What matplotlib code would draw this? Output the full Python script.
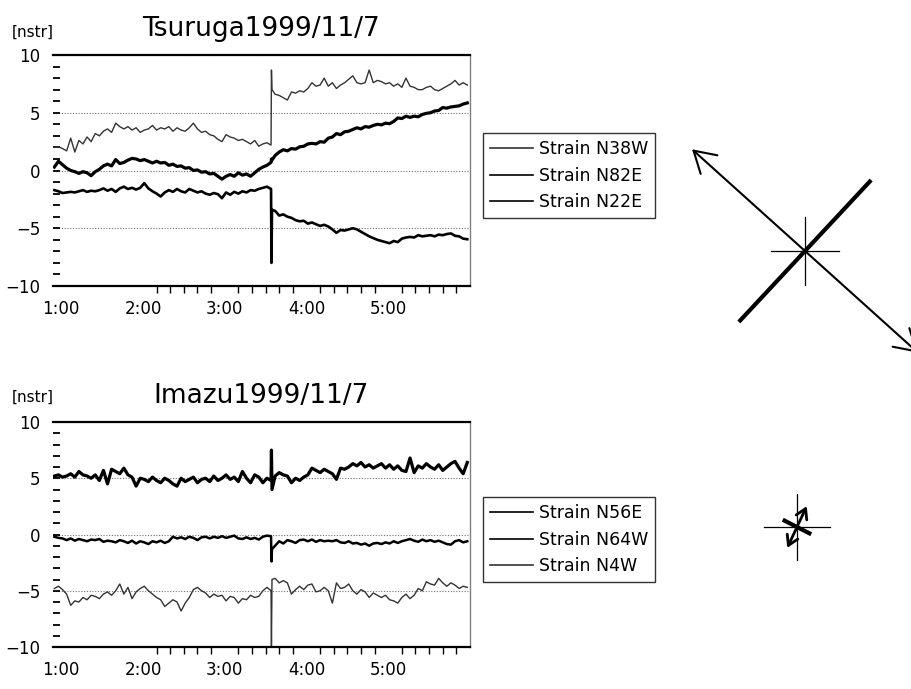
import numpy as np
import matplotlib.pyplot as plt
from matplotlib.patches import FancyArrowPatch

# time axis in minutes after midnight, one sample every 3 minutes
t_grid = np.arange(55, 361, 3)
spike_t = [214.3, 214.7]   # the 3:34 event

# ---- Tsuruga 1999/11/7 ----
tsu_n38w_pre = [2.0, 2.05, 1.9, 1.7, 2.8, 1.6, 2.6, 2.3, 2.9, 2.5,
                3.2, 3.0, 3.4, 3.6, 3.3, 4.1, 3.8, 3.6, 3.8, 3.5,
                3.7, 3.3, 3.5, 3.6, 3.9, 3.5, 3.7, 3.6, 3.8, 3.4,
                3.7, 3.5, 3.4, 3.7, 4.1, 3.6, 3.3, 3.4, 3.1, 3.0,
                2.7, 2.5, 3.1, 2.9, 2.8, 2.6, 2.7, 2.5, 2.3, 2.6,
                2.1, 2.3, 2.4, 2.2]
tsu_n38w_spike = [8.7, 7.0]
tsu_n38w_post = [6.6, 6.5, 6.3, 6.1, 6.8, 6.7, 6.9, 6.8, 7.1, 7.6,
                 7.3, 7.4, 8.0, 7.3, 7.6, 7.1, 7.4, 7.6, 7.9, 8.2,
                 7.6, 7.5, 7.6, 8.7, 7.6, 7.8, 7.7, 7.5, 7.6, 7.3,
                 7.5, 7.2, 8.0, 7.3, 7.2, 7.0, 7.0, 7.2, 7.3, 7.0,
                 6.9, 7.1, 7.3, 7.5, 7.8, 7.4, 7.6, 7.4]

tsu_n82e_pre = [0.3, 0.8, 0.5, 0.2, 0.0, -0.1, -0.25, -0.1, -0.2, -0.45,
                -0.1, 0.1, 0.4, 0.55, 0.4, 0.95, 0.6, 0.7, 0.9, 1.05,
                1.0, 0.85, 0.95, 0.8, 0.65, 0.8, 0.65, 0.7, 0.45, 0.55,
                0.35, 0.4, 0.2, 0.25, 0.0, 0.05, -0.15, -0.1, -0.3, -0.25,
                -0.5, -0.75, -0.5, -0.35, -0.5, -0.2, -0.4, -0.3, -0.5, -0.2,
                0.1, 0.3, 0.45, 0.7]
tsu_n82e_spike = [1.0, 0.9]
tsu_n82e_post = [1.3, 1.6, 1.8, 1.7, 1.9, 1.85, 2.05, 2.1, 2.3, 2.35,
                 2.3, 2.5, 2.45, 2.8, 2.9, 3.2, 3.1, 3.35, 3.4, 3.55,
                 3.7, 3.6, 3.8, 3.75, 3.9, 4.0, 3.95, 4.1, 4.05, 4.25,
                 4.55, 4.5, 4.7, 4.6, 4.7, 4.65, 4.85, 4.95, 5.0, 5.15,
                 5.2, 5.45, 5.4, 5.5, 5.55, 5.6, 5.75, 5.85]

tsu_n22e_pre = [-1.7, -1.8, -1.95, -1.9, -1.85, -1.9, -1.8, -1.7, -1.85, -1.75,
                -1.8, -1.7, -1.55, -1.75, -1.6, -1.85, -1.55, -1.4, -1.6, -1.5,
                -1.65, -1.5, -1.1, -1.55, -1.8, -2.0, -2.25, -1.9, -1.7, -1.85,
                -1.6, -1.8, -1.9, -1.6, -1.75, -1.9, -1.8, -2.0, -2.1, -1.95,
                -2.05, -2.4, -1.9, -2.1, -1.85, -2.0, -1.8, -1.9, -1.7, -1.75,
                -1.6, -1.5, -1.4, -1.6]
tsu_n22e_spike = [-8.0, -3.4]
tsu_n22e_post = [-3.5, -3.9, -3.8, -4.0, -4.1, -4.3, -4.4, -4.35, -4.6, -4.5,
                 -4.65, -4.8, -4.7, -4.85, -5.1, -5.4, -5.15, -5.2, -5.1, -5.0,
                 -5.1, -5.3, -5.5, -5.7, -5.85, -6.0, -6.1, -6.2, -6.3, -6.1,
                 -6.2, -5.9, -5.8, -5.75, -5.8, -5.6, -5.7, -5.65, -5.6, -5.7,
                 -5.55, -5.6, -5.5, -5.45, -5.65, -5.7, -5.9, -5.95]

# ---- Imazu 1999/11/7 ----
imz_n56e_pre = [5.2, 5.3, 5.1, 5.2, 5.4, 5.1, 5.6, 5.3, 5.2, 5.0,
                5.3, 4.8, 5.7, 4.5, 5.8, 5.6, 5.4, 5.9, 5.3, 5.1,
                4.3, 5.0, 4.9, 4.7, 5.1, 4.8, 4.6, 5.0, 4.8, 4.5,
                4.3, 5.0, 4.7, 4.9, 5.1, 4.6, 4.9, 5.0, 4.7, 5.2,
                4.8, 5.0, 5.3, 4.9, 5.1, 4.7, 5.6, 5.0, 4.6, 5.3,
                5.1, 4.6, 5.0, 4.8]
imz_n56e_spike = [7.5, 4.0]
imz_n56e_post = [5.2, 5.5, 5.3, 5.2, 4.6, 5.0, 4.8, 5.1, 5.3, 5.9,
                 5.7, 5.5, 5.8, 5.6, 5.4, 4.9, 5.9, 5.8, 6.0, 6.3,
                 6.1, 6.4, 6.0, 6.2, 5.9, 6.1, 6.3, 5.9, 6.2, 5.8,
                 6.1, 5.7, 5.6, 6.8, 5.5, 6.1, 5.9, 6.3, 6.0, 5.8,
                 6.2, 5.7, 6.0, 6.3, 6.5, 5.9, 5.4, 6.4]

imz_n64w_pre = [-0.2, -0.3, -0.35, -0.5, -0.35, -0.55, -0.4, -0.5, -0.6, -0.45,
                -0.5, -0.4, -0.65, -0.55, -0.6, -0.7, -0.5, -0.6, -0.75, -0.55,
                -0.8, -0.6, -0.7, -0.85, -0.6, -0.7, -0.55, -0.75, -0.6, -0.2,
                -0.35, -0.25, -0.4, -0.2, -0.3, -0.5, -0.25, -0.2, -0.35, -0.2,
                -0.3, -0.15, -0.3, -0.2, -0.1, -0.35, -0.4, -0.25, -0.4, -0.3,
                -0.45, -0.2, -0.1, -0.15]
imz_n64w_spike = [-2.4, -1.3]
imz_n64w_post = [-1.0, -0.6, -0.8, -0.5, -0.6, -0.75, -0.5, -0.45, -0.6, -0.45,
                 -0.65, -0.5, -0.6, -0.55, -0.6, -0.5, -0.7, -0.75, -0.6, -0.8,
                 -0.75, -0.9, -0.8, -1.0, -0.8, -0.75, -0.85, -0.7, -0.8, -0.6,
                 -0.75, -0.6, -0.5, -0.4, -0.55, -0.65, -0.45, -0.6, -0.5, -0.65,
                 -0.55, -0.7, -0.85, -0.9, -0.6, -0.5, -0.7, -0.6]

imz_n4w_pre = [-4.8, -4.6, -4.9, -5.3, -6.3, -5.9, -6.0, -5.6, -5.8, -5.4,
               -5.5, -5.7, -5.3, -5.1, -5.4, -5.0, -4.4, -5.3, -4.7, -5.7,
               -5.1, -4.8, -4.6, -5.0, -5.3, -5.6, -5.8, -6.4, -6.1, -5.8,
               -6.0, -6.8, -6.1, -5.6, -4.9, -4.7, -5.0, -5.2, -5.6, -5.3,
               -5.5, -5.4, -5.9, -5.5, -5.6, -6.1, -5.7, -5.8, -5.4, -5.6,
               -5.5, -5.0, -4.7, -5.0]
imz_n4w_spike = [-10.0, -4.0]
imz_n4w_post = [-3.9, -4.3, -4.1, -4.3, -5.3, -4.9, -4.6, -4.9, -4.5, -4.4,
                -5.1, -5.0, -4.7, -5.0, -6.1, -4.3, -4.8, -4.7, -4.4, -5.0,
                -5.3, -4.9, -5.1, -5.6, -5.2, -5.4, -5.6, -5.4, -5.8, -5.9,
                -6.1, -5.6, -5.3, -5.7, -5.4, -4.8, -5.0, -4.2, -4.4, -4.5,
                -3.9, -4.3, -4.6, -4.3, -4.5, -4.8, -4.6, -4.7]

hour_ticks = [60, 120, 180, 240, 300]
hour_labels = ['1:00', '2:00', '3:00', '4:00', '5:00']

# principal strain sketches: [Tsuruga, Imazu], azimuth from north in degrees
ext_az = [-48, 25]
ext_len = [152, 23]
comp_az = [43, 117]
comp_len = [97, 16]
cross_len = [34, 33]

t_all = np.concatenate([t_grid[:54], spike_t, t_grid[54:]])


def join(pre, spike, post):
    return np.concatenate([pre, spike, post])


def style_axes(ax):
    ax.set_xlim(54, 360)
    ax.set_ylim(-10, 10)
    ax.set_yticks([-10, -5, 0, 5, 10])
    ax.set_yticks(np.arange(-9, 10, 1), minor=True)
    ax.set_xticks(hour_ticks)
    ax.set_xticklabels(hour_labels)
    ax.set_xticks(np.arange(130, 360, 10), minor=True)
    ax.tick_params(axis='x', which='major', length=0, pad=10, labelsize=12)
    ax.tick_params(axis='x', which='minor', length=5, direction='out', width=1)
    ax.tick_params(axis='y', which='both', direction='in', length=5, width=1.3,
                   labelsize=12, pad=9)
    ax.grid(axis='y', which='major', ls=(0, (1, 1.5)), color='0.45', lw=0.8)
    ax.spines['left'].set_visible(False)
    ax.spines['top'].set_linewidth(1.6)
    ax.spines['bottom'].set_linewidth(1.6)
    ax.spines['right'].set_color('0.5')
    ax.spines['right'].set_linewidth(1.0)


def draw_sketch(ax, i, head, hl):
    ax.set_aspect('equal')
    ax.axis('off')
    c = cross_len[i]
    ax.plot([-c, c], [0, 0], color='black', lw=0.9, clip_on=False)
    ax.plot([0, 0], [-c, c], color='black', lw=0.9, clip_on=False)
    a = np.radians(comp_az[i])
    dx, dy = comp_len[i] * np.sin(a), comp_len[i] * np.cos(a)
    ax.plot([-dx, dx], [-dy, dy], color='black', lw=3.0,
            solid_capstyle='butt', clip_on=False)
    a = np.radians(ext_az[i])
    dx, dy = ext_len[i] * np.sin(a), ext_len[i] * np.cos(a)
    for s in (1, -1):
        arr = FancyArrowPatch((0, 0), (s * dx, s * dy),
                              arrowstyle='->,head_length=0.5,head_width=0.3',
                              mutation_scale=head, lw=hl, color='black',
                              shrinkA=0, shrinkB=0, clip_on=False)
        ax.add_patch(arr)


fig = plt.figure(figsize=(9.12, 6.89), dpi=100)

ax1 = fig.add_axes([53 / 912, 1 - 286 / 689, 417 / 912, 231 / 689])
l1, = ax1.plot(t_all, join(tsu_n38w_pre, tsu_n38w_spike, tsu_n38w_post),
               color='0.2', lw=1.0, label='Strain N38W')
l2, = ax1.plot(t_all, join(tsu_n82e_pre, tsu_n82e_spike, tsu_n82e_post),
               color='black', lw=2.3, label='Strain N82E')
l3, = ax1.plot(t_all, join(tsu_n22e_pre, tsu_n22e_spike, tsu_n22e_post),
               color='black', lw=1.9, label='Strain N22E')
style_axes(ax1)
ax1.set_title('Tsuruga1999/11/7', fontsize=19, pad=14)
fig.text(12 / 912, 1 - 32 / 689, '[nstr]', fontsize=11, va='center')

ax2 = fig.add_axes([53 / 912, 1 - 647 / 689, 417 / 912, 225 / 689])
m1, = ax2.plot(t_all, join(imz_n56e_pre, imz_n56e_spike, imz_n56e_post),
               color='black', lw=2.3, label='Strain N56E')
m2, = ax2.plot(t_all, join(imz_n64w_pre, imz_n64w_spike, imz_n64w_post),
               color='black', lw=1.8, label='Strain N64W')
m3, = ax2.plot(t_all, join(imz_n4w_pre, imz_n4w_spike, imz_n4w_post),
               color='0.2', lw=1.0, label='Strain N4W')
style_axes(ax2)
ax2.set_title('Imazu1999/11/7', fontsize=19, pad=14)
fig.text(12 / 912, 1 - 397 / 689, '[nstr]', fontsize=11, va='center')

for handles, top in (([l1, l2, l3], 133), ([m1, m2, m3], 497)):
    leg = fig.legend(handles, [h.get_label() for h in handles], loc='upper left',
                     bbox_to_anchor=(483 / 912, 1 - top / 689), fontsize=12.5,
                     frameon=True, fancybox=False, edgecolor='black',
                     handlelength=2.5, handletextpad=0.3, labelspacing=0.5,
                     borderpad=0.4, borderaxespad=0)
    leg.get_frame().set_linewidth(1.0)
    for h in leg.legend_handles:
        h.set_linewidth(1.2)

# sketches, axes units are pixels centred on the cross
ax3 = fig.add_axes([672 / 912, 1 - 380 / 689, 240 / 912, 260 / 689])
ax3.set_xlim(-133, 107)
ax3.set_ylim(-129, 131)
draw_sketch(ax3, 0, 30, 1.5)

ax4 = fig.add_axes([742 / 912, 1 - 585 / 689, 110 / 912, 115 / 689])
ax4.set_xlim(-55, 55)
ax4.set_ylim(-58, 57)
draw_sketch(ax4, 1, 14, 2.0)

fig.savefig('out.png', dpi=100)
